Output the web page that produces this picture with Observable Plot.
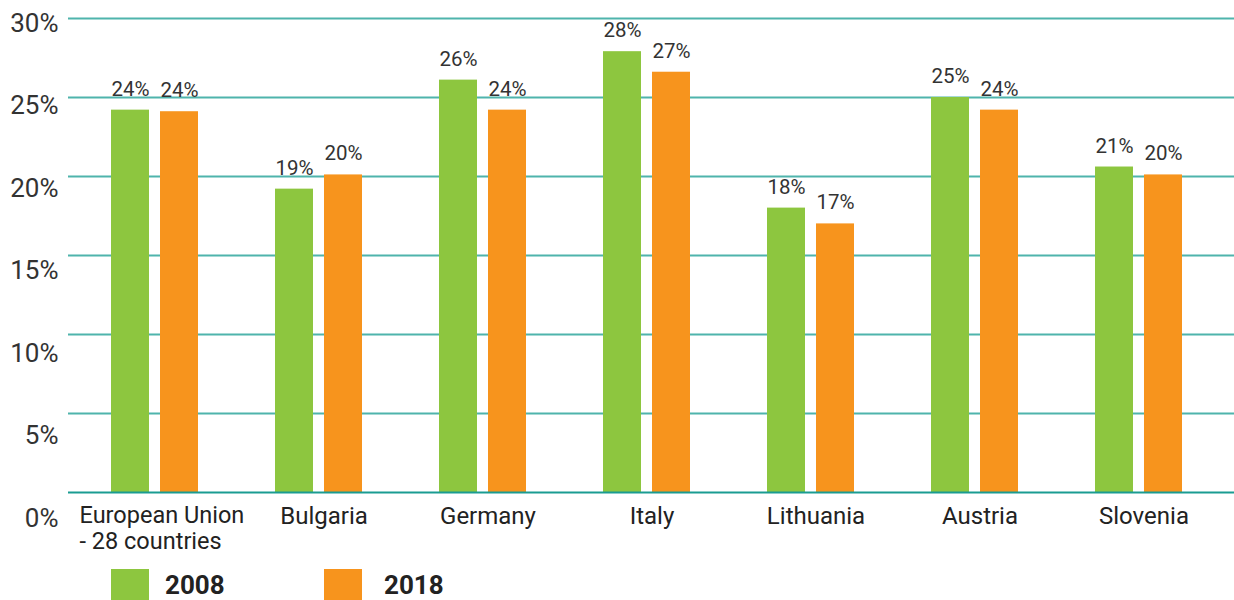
<!DOCTYPE html>
<html>
<head>
<meta charset="utf-8">
<script src="https://cdn.jsdelivr.net/npm/d3@7"></script>
<script src="https://cdn.jsdelivr.net/npm/@observablehq/plot@0.6"></script>
<style>
  body { margin: 0; background: #fff; font-family: Roboto, sans-serif; }
  #wrap { position: relative; width: 1234px; height: 600px; overflow: hidden; }
  .leg { position: absolute; display: flex; align-items: center; }
  .sw { width: 38px; height: 38px; }
  .lt { font-family: Roboto, sans-serif; font-weight: 700; font-size: 26px; color: #222; }
</style>
</head>
<body>
<div id="wrap"></div>
<script>
const countries = ["European Union\n- 28 countries", "Bulgaria", "Germany", "Italy", "Lithuania", "Austria", "Slovenia"];
const values2008 = [24.2, 19.2, 26.1, 27.9, 18.0, 25.0, 20.6];
const values2018 = [24.1, 20.1, 24.2, 26.6, 17.0, 24.2, 20.1];
const years = ["2008", "2018"];
const colors = ["#8dc63f", "#f7941d"];
const yTicks = [0, 5, 10, 15, 20, 25, 30];

const d2008 = countries.map((c, i) => ({country: c, value: values2008[i]}));
const d2018 = countries.map((c, i) => ({country: c, value: values2018[i]}));
const fmt = d => Math.round(d.value) + "%";
// tick labels in the reference are spread slightly wider than gridlines
const labelPos = v => 30 - 0.316 - 1.0443 * (30 - v);

const chart = Plot.plot({
  width: 1234,
  height: 560,
  marginLeft: 68,
  marginRight: 0,
  marginTop: 18,
  marginBottom: 68,
  style: {fontFamily: "Roboto, sans-serif", background: "#fff"},
  x: {domain: countries, paddingInner: 0, paddingOuter: 0.0549, align: 0.25, round: false, axis: null},
  y: {domain: [0, 30], axis: null},
  marks: [
    Plot.ruleY(yTicks.filter(d => d > 0), {stroke: "#4fb4ac", strokeWidth: 2}),
    Plot.barY(d2008, {x: "country", y: "value", fill: colors[0], insetLeft: 38.5, insetRight: 87.5}),
    Plot.barY(d2018, {x: "country", y: "value", fill: colors[1], insetLeft: 87.5, insetRight: 38.5}),
    Plot.ruleY([0], {stroke: "#1a9c92", strokeWidth: 2}),
    Plot.text(d2008, {x: "country", y: "value", text: fmt, dx: -24.5, dy: -21, fontSize: 20.5, fill: "#333"}),
    Plot.text(d2018, {x: "country", y: "value", text: fmt, dx: 24.5, dy: -21, fontSize: 20.5, fill: "#333"}),
    Plot.text(yTicks, {y: labelPos, text: d => d + "%", frameAnchor: "left", dx: -10, textAnchor: "end", fontSize: 26, fill: "#333"}),
    Plot.text(countries.slice(0, 1), {x: d => d, y: () => 0, text: d => d, dx: -75.5, dy: 12.5, textAnchor: "start", lineAnchor: "top", lineHeight: 1.1, fontSize: 23.5, fill: "#222"}),
    Plot.text(countries.slice(1), {x: d => d, y: () => 0, text: d => d, dx: 5, dy: 12.5, lineAnchor: "top", lineHeight: 1.1, fontSize: 24, fill: "#222"})
  ]
});

const wrap = document.getElementById("wrap");
wrap.appendChild(chart);
const legPos = [[111, 165], [324, 384]];
years.forEach((y, i) => {
  const sw = document.createElement("div");
  sw.className = "leg";
  sw.style.left = legPos[i][0] + "px";
  sw.style.top = "569px";
  sw.innerHTML = `<div class="sw" style="background:${colors[i]}"></div>`;
  wrap.appendChild(sw);
  const t = document.createElement("div");
  t.className = "leg lt";
  t.style.left = legPos[i][1] + "px";
  t.style.top = "570px";
  t.textContent = y;
  wrap.appendChild(t);
});
</script>
</body>
</html>
